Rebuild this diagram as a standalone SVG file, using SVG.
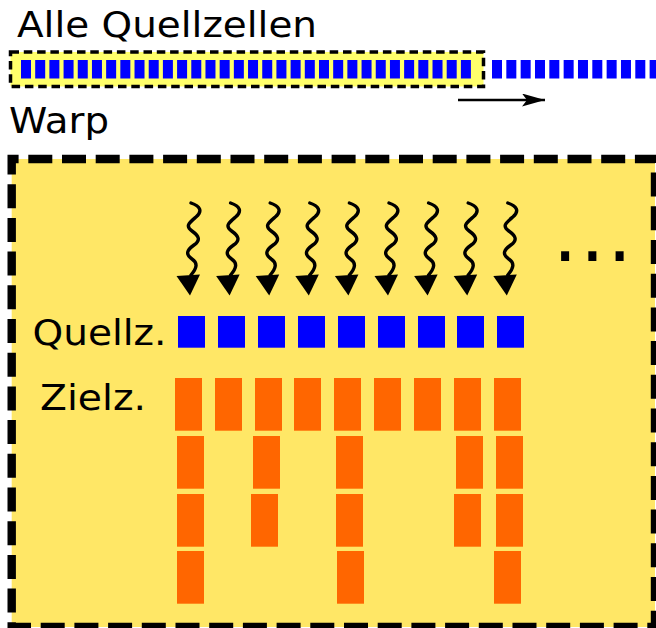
<svg xmlns="http://www.w3.org/2000/svg" xmlns:xlink="http://www.w3.org/1999/xlink" width="656" height="628" viewBox="0 0 656 628">
<style>
.t{font-family:"DejaVu Sans","Liberation Sans",sans-serif;font-size:36px;fill:#000}
.bar{fill:#0000ff}
.sq{fill:#0000ff}
.or{fill:#ff6600}
.wave{fill:none;stroke:#000;stroke-width:3.4;stroke-linecap:round}
</style>
<defs>
<rect id="b" class="bar" width="10" height="18.5"/>
<rect id="o" class="or" width="27" height="52.7"/>
<g id="wa">
<path class="wave" d="M191,203 C200,206 203,211 196,217 C189,223 185,226 192,231 C199,236 201,240 194,245 C187,250 185,254 192,259 C198,263 197,268 191,275"/>
<polygon points="176.5,276 200,274.5 190,295.5" fill="#000"/>
</g>
<marker id="ah" markerWidth="23" markerHeight="13" refX="23" refY="6.5" orient="auto" markerUnits="userSpaceOnUse" viewBox="0 0 23 13">
<path d="M0,0 L23,6.5 L0,13 L5,6.5 z" fill="#000"/>
</marker>
</defs>

<g id="title"><text class="t" x="17" y="37" textLength="300" lengthAdjust="spacingAndGlyphs">Alle Quellzellen</text></g>

<g id="warp-window">
<rect x="10.5" y="52" width="473" height="34.5" fill="#ffff6b" stroke="#000" stroke-width="3.5" stroke-dasharray="8.5,4.8"/>
<g id="source-cells-in-window">
<use href="#b" x="21" y="60"/><use href="#b" x="35.19" y="60"/><use href="#b" x="49.38" y="60"/><use href="#b" x="63.57" y="60"/>
<use href="#b" x="77.76" y="60"/><use href="#b" x="91.95" y="60"/><use href="#b" x="106.14" y="60"/><use href="#b" x="120.33" y="60"/>
<use href="#b" x="134.52" y="60"/><use href="#b" x="148.71" y="60"/><use href="#b" x="162.9" y="60"/><use href="#b" x="177.09" y="60"/>
<use href="#b" x="191.28" y="60"/><use href="#b" x="205.47" y="60"/><use href="#b" x="219.66" y="60"/><use href="#b" x="233.85" y="60"/>
<use href="#b" x="248.04" y="60"/><use href="#b" x="262.23" y="60"/><use href="#b" x="276.42" y="60"/><use href="#b" x="290.61" y="60"/>
<use href="#b" x="304.8" y="60"/><use href="#b" x="318.99" y="60"/><use href="#b" x="333.18" y="60"/><use href="#b" x="347.37" y="60"/>
<use href="#b" x="361.56" y="60"/><use href="#b" x="375.75" y="60"/><use href="#b" x="389.94" y="60"/><use href="#b" x="404.13" y="60"/>
<use href="#b" x="418.32" y="60"/><use href="#b" x="432.51" y="60"/><use href="#b" x="446.7" y="60"/><use href="#b" x="460.89" y="60"/>
</g>
</g>
<g id="source-cells-rest">
<use href="#b" x="492" y="60"/><use href="#b" x="506.33" y="60"/><use href="#b" x="520.66" y="60"/><use href="#b" x="534.99" y="60"/>
<use href="#b" x="549.32" y="60"/><use href="#b" x="563.65" y="60"/><use href="#b" x="577.98" y="60"/><use href="#b" x="592.31" y="60"/>
<use href="#b" x="606.64" y="60"/><use href="#b" x="620.97" y="60"/><use href="#b" x="635.3" y="60"/><use href="#b" x="649.63" y="60"/>
</g>

<g id="warp-label"><text class="t" x="9" y="133" textLength="100" lengthAdjust="spacingAndGlyphs">Warp</text></g>

<g id="warp">
<rect x="11.7" y="159" width="643.3" height="468" fill="#ffe766" stroke="#000" stroke-width="8.4" stroke-dasharray="24,9.7" stroke-dashoffset="17.1"/>
<text x="552.7" y="261" font-family="DejaVu Sans, sans-serif" font-size="78" letter-spacing="2.5" fill="#000">...</text>
</g>

<g id="quellz-label"><text class="t" x="32.5" y="345" textLength="134" lengthAdjust="spacingAndGlyphs">Quellz.</text></g>
<g id="zielz-label"><text class="t" x="40" y="410" textLength="106" lengthAdjust="spacingAndGlyphs">Zielz.</text></g>

<g id="source-cells">
<rect class="sq" x="178" y="316" width="27" height="31.7"/>
<rect class="sq" x="218" y="316" width="27" height="31.7"/>
<rect class="sq" x="258" y="316" width="27" height="31.7"/>
<rect class="sq" x="298" y="316" width="27" height="31.7"/>
<rect class="sq" x="338" y="316" width="27" height="31.7"/>
<rect class="sq" x="378" y="316" width="27" height="31.7"/>
<rect class="sq" x="418" y="316" width="27" height="31.7"/>
<rect class="sq" x="457" y="316" width="27" height="31.7"/>
<rect class="sq" x="497" y="316" width="27" height="31.7"/>
</g>

<g id="target-cells">
<use href="#o" x="175" y="378"/><use href="#o" x="215" y="378"/><use href="#o" x="255" y="378"/>
<use href="#o" x="294" y="378"/><use href="#o" x="334" y="378"/><use href="#o" x="374" y="378"/>
<use href="#o" x="414" y="378"/><use href="#o" x="454" y="378"/><use href="#o" x="494" y="378"/>
<use href="#o" x="177" y="436"/><use href="#o" x="253" y="436"/><use href="#o" x="336" y="436"/>
<use href="#o" x="456" y="436"/><use href="#o" x="496" y="436"/>
<use href="#o" x="177" y="494"/><use href="#o" x="251" y="494"/><use href="#o" x="336" y="494"/>
<use href="#o" x="454" y="494"/><use href="#o" x="496" y="494"/>
<use href="#o" x="177" y="551"/><use href="#o" x="337" y="551"/><use href="#o" x="494" y="551"/>
</g>

<g id="connectors">
<line x1="458" y1="100" x2="545" y2="100" stroke="#000" stroke-width="2.6" marker-end="url(#ah)"/>
<use href="#wa"/>
<use href="#wa" x="39.6"/>
<use href="#wa" x="79.2"/>
<use href="#wa" x="118.8"/>
<use href="#wa" x="158.4"/>
<use href="#wa" x="198"/>
<use href="#wa" x="237.6"/>
<use href="#wa" x="277.2"/>
<use href="#wa" x="316.8"/>
</g>
</svg>
